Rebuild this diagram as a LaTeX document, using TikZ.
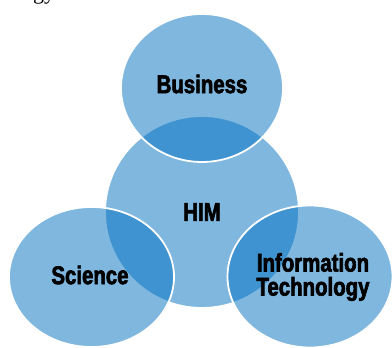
\documentclass[tikz,border=0pt]{standalone}
\usepackage{fontspec}
\setmainfont{Liberation Sans}
\newfontfamily\lbl[FakeStretch=0.8,FakeBold=2.5]{Liberation Sans}
\newfontfamily\serf{Liberation Serif}
\usetikzlibrary{shapes.geometric}
\definecolor{vblue}{RGB}{0,112,192}
\tikzset{
  venn/.style={ellipse, fill=vblue, fill opacity=0.5, draw=white, draw opacity=1,
    line width=1.8pt, inner sep=0pt, outer sep=0pt},
  lab/.style={font=\lbl\bfseries\fontsize{25.5}{24}\selectfont, text=black, align=center, inner sep=0pt}
}
\begin{document}
\begin{tikzpicture}[x=1pt,y=-1pt]
\useasboundingbox (0,0) rectangle (392,348);
\begin{scope}
\clip (0,0) rectangle (392,348);
\node[font=\serf\fontsize{22}{22}\selectfont, anchor=base west, inner sep=0pt] (frag) at (33,-1) {gy};
\node[venn, minimum width=194pt, minimum height=192pt] (him) at (202,212) {};
\node[venn, minimum width=162pt, minimum height=148pt] (bus) at (202,88) {};
\node[venn, minimum width=165pt, minimum height=140pt] (sci) at (91.5,277) {};
\node[venn, minimum width=165pt, minimum height=142pt] (it) at (310,276.5) {};
\end{scope}
\node[lab] (tbus) at (202,84) {Business};
\node[lab] (thim) at (202,212) {HIM};
\node[lab] (tsci) at (90,275) {Science};
\node[lab] (tit) at (313,277) {Information\\Technology};
\end{tikzpicture}
\end{document}
